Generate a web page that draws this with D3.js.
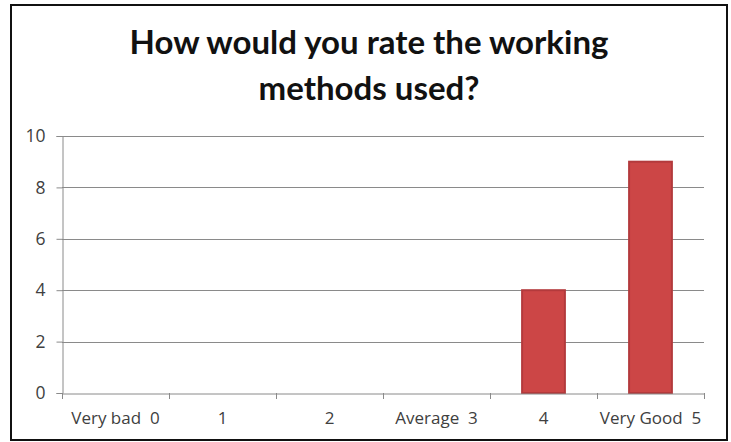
<!DOCTYPE html>
<html>
<head>
<meta charset="utf-8">
<script src="https://cdn.jsdelivr.net/npm/d3@7"></script>
<style>
  body { margin: 0; background: #fff; }
  svg { display: block; }
</style>
</head>
<body>
<svg id="chart" width="731" height="442"></svg>
<script>
// chart data
var categories = ["Very bad  0", "1", "2", "Average  3", "4", "Very Good  5"];
var counts = [0, 0, 0, 0, 4, 9];
var yTicks = [0, 2, 4, 6, 8, 10];
var titleLines = ["How would you rate the working", "methods used?"];

var svg = d3.select("#chart");
var margin = {left: 62, right: 27, top: 136, bottom: 49};
var W = 731, H = 442;

// outer frame
svg.append("rect")
  .attr("x", 11).attr("y", 5)
  .attr("width", 716).attr("height", 435)
  .attr("fill", "#fff")
  .attr("stroke", "#111")
  .attr("stroke-width", 2);

var x = d3.scaleBand()
  .domain(categories)
  .range([margin.left, W - margin.right])
  .paddingInner(0.6)
  .paddingOuter(0.3);

var bands = d3.scaleBand()
  .domain(categories)
  .range([margin.left, W - margin.right]);

var y = d3.scaleLinear()
  .domain([0, 10])
  .range([H - margin.bottom, margin.top]);

// gridlines
svg.append("g")
  .selectAll("line")
  .data(yTicks.filter(d => d > 0))
  .join("line")
  .attr("x1", margin.left).attr("x2", W - margin.right)
  .attr("y1", d => Math.round(y(d)) + 0.5).attr("y2", d => Math.round(y(d)) + 0.5)
  .attr("stroke", "#8a8a8a")
  .attr("stroke-width", 1);

// y axis
var yAxis = svg.append("g")
  .attr("transform", "translate(" + (margin.left + 0.5) + ",0)")
  .call(d3.axisLeft(y).tickValues(yTicks).tickSize(6).tickPadding(11));
yAxis.select(".domain").attr("stroke", "#8a8a8a");
yAxis.selectAll(".tick line").attr("stroke", "#8a8a8a");
yAxis.selectAll("text")
  .attr("fill", "#404040")
  .attr("font-family", "'Open Sans', sans-serif")
  .attr("font-size", 17.5);

// bars
svg.append("g")
  .selectAll("rect")
  .data(counts.map((v, i) => ({cat: categories[i], v: v})).filter(d => d.v > 0))
  .join("rect")
  .attr("x", d => x(d.cat))
  .attr("y", d => y(d.v))
  .attr("width", x.bandwidth())
  .attr("height", d => y(0) - y(d.v))
  .attr("fill", "#cc4646")
  .attr("stroke", "#b33a3c")
  .attr("stroke-width", 2);

// x axis
var xAxis = svg.append("g")
  .attr("transform", "translate(0," + (Math.round(y(0)) + 0.5) + ")")
  .call(d3.axisBottom(bands).tickSize(0).tickPadding(18));
xAxis.select(".domain").attr("stroke", "#8a8a8a");
xAxis.selectAll("text")
  .attr("fill", "#404040")
  .attr("font-family", "'Open Sans', sans-serif")
  .attr("font-size", 17)
  .style("white-space", "pre");

// category boundary ticks
var bounds = categories.map(c => bands(c)).concat([W - margin.right]);
svg.append("g")
  .selectAll("line")
  .data(bounds)
  .join("line")
  .attr("x1", d => Math.round(d) + 0.5).attr("x2", d => Math.round(d) + 0.5)
  .attr("y1", y(0)).attr("y2", y(0) + 6)
  .attr("stroke", "#8a8a8a");

// title
svg.append("g")
  .selectAll("text")
  .data(titleLines)
  .join("text")
  .attr("x", 369)
  .attr("y", (d, i) => 54 + i * 46)
  .attr("text-anchor", "middle")
  .attr("fill", "#111")
  .attr("font-family", "Lato, sans-serif")
  .attr("font-weight", "bold")
  .attr("font-size", 33)
  .text(d => d);
</script>
</body>
</html>
